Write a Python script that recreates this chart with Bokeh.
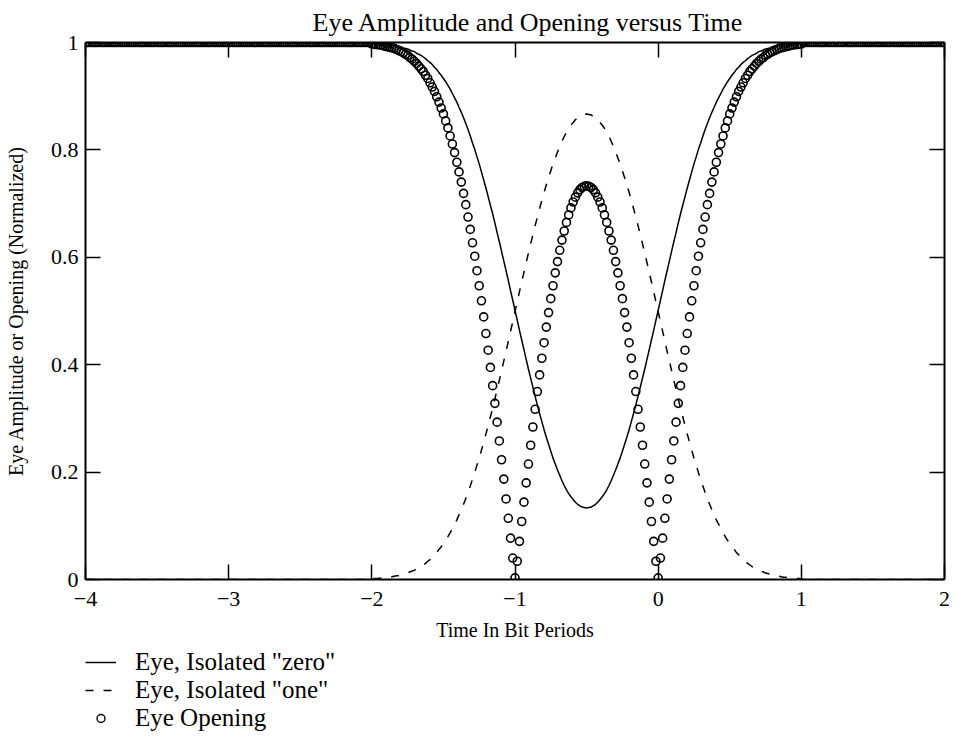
import numpy as np
from bokeh.plotting import figure
from bokeh.layouts import column
from bokeh.models import (ColumnDataSource, FixedTicker, CustomJSTickFormatter,
                          LinearAxis, Legend, LegendItem, Range1d)
from bokeh.embed import file_html
from bokeh.resources import INLINE

# ---------------- data ----------------
# time axis in bit periods, sampled 64 samples per bit from -4 to 2
time_bits = np.linspace(-4.0, 2.0, 385)

x_ticks = [-4, -3, -2, -1, 0, 1, 2]
x_tick_labels = ["\u22124", "\u22123", "\u22122", "\u22121", "0", "1", "2"]
y_ticks = [0, 0.2, 0.4, 0.6, 0.8, 1]
y_tick_labels = ["0", "0.2", "0.4", "0.6", "0.8", "1"]

series_labels = ['Eye, Isolated "zero"', 'Eye, Isolated "one"', "Eye Opening"]

# central section t = -2 .. 1 (193 samples)
one_center = [
    .001, .002, .002, .002, .003, .003, .003, .004, .004, .005,
    .006, .007, .007, .008, .010, .011, .012, .014, .016, .017,
    .020, .022, .024, .027, .030, .034, .037, .041, .046, .050,
    .056, .061, .067, .073, .080, .087, .095, .103, .111, .121,
    .130, .140, .151, .162, .174, .187, .199, .213, .226, .241,
    .256, .271, .287, .303, .319, .336, .354, .371, .389, .407,
    .425, .443, .462, .480, .499, .517, .536, .554, .572, .590,
    .608, .625, .642, .659, .675, .691, .706, .721, .735, .748,
    .761, .774, .785, .796, .806, .816, .825, .833, .840, .846,
    .851, .856, .860, .863, .865, .866, .867,
    .866, .865, .863, .860, .856, .851,
    .846, .840, .833, .825, .816, .806, .796, .785, .774, .761,
    .748, .735, .721, .706, .691, .675, .659, .642, .625, .608,
    .590, .572, .554, .536, .517, .499, .480, .462, .443, .425,
    .407, .389, .371, .354, .336, .319, .303, .287, .271, .256,
    .241, .226, .213, .199, .187, .174, .162, .151, .140, .130,
    .121, .111, .103, .095, .087, .080, .073, .067, .061, .056,
    .050, .046, .041, .037, .034, .030, .027, .024, .022, .020,
    .017, .016, .014, .012, .011, .010, .008, .007, .007, .006,
    .005, .004, .004, .003, .003, .003, .002, .002, .002, .001,
]
zero_center = [
    .999, .998, .998, .998, .997, .997, .997, .996, .996, .995,
    .994, .993, .993, .992, .990, .989, .988, .986, .984, .983,
    .980, .978, .976, .973, .970, .966, .963, .959, .954, .950,
    .944, .939, .933, .927, .920, .913, .905, .897, .889, .879,
    .870, .860, .849, .838, .826, .813, .801, .787, .774, .759,
    .744, .729, .713, .697, .681, .664, .646, .629, .611, .593,
    .575, .557, .538, .520, .501, .483, .464, .446, .428, .410,
    .392, .375, .358, .341, .325, .309, .294, .279, .265, .252,
    .239, .226, .215, .204, .194, .184, .175, .167, .160, .154,
    .149, .144, .140, .137, .135, .134, .133,
    .134, .135, .137, .140, .144, .149,
    .154, .160, .167, .175, .184, .194, .204, .215, .226, .239,
    .252, .265, .279, .294, .309, .325, .341, .358, .375, .392,
    .410, .428, .446, .464, .483, .501, .520, .538, .557, .575,
    .593, .611, .629, .646, .664, .681, .697, .713, .729, .744,
    .759, .774, .787, .801, .813, .826, .838, .849, .860, .870,
    .879, .889, .897, .905, .913, .920, .927, .933, .939, .944,
    .950, .954, .959, .963, .966, .970, .973, .976, .978, .980,
    .983, .984, .986, .988, .989, .990, .992, .993, .993, .994,
    .995, .996, .996, .997, .997, .997, .998, .998, .998, .999,
]
open_center = [
    .997, .997, .996, .996, .995, .994, .993, .992, .991, .990,
    .989, .987, .985, .983, .981, .978, .976, .972, .969, .965,
    .961, .956, .951, .946, .939, .933, .925, .917, .909, .899,
    .889, .878, .867, .854, .841, .826, .811, .795, .777, .759,
    .740, .719, .698, .675, .652, .627, .602, .575, .547, .519,
    .489, .458, .427, .395, .361, .328, .293, .258, .223, .187,
    .150, .114, .077, .040, .003, .034, .071, .108, .144, .180,
    .215, .250, .284, .317, .350, .381, .412, .441, .470, .497,
    .523, .547, .571, .592, .613, .632, .649, .665, .679, .692,
    .703, .712, .720, .726, .730, .732, .733,
    .732, .730, .726, .720, .712, .703,
    .692, .679, .665, .649, .632, .613, .592, .571, .547, .523,
    .497, .470, .441, .412, .381, .350, .317, .284, .250, .215,
    .180, .144, .108, .071, .034, .003, .040, .077, .114, .150,
    .187, .223, .258, .293, .328, .361, .395, .427, .458, .489,
    .519, .547, .575, .602, .627, .652, .675, .698, .719, .740,
    .759, .777, .795, .811, .826, .841, .854, .867, .878, .889,
    .899, .909, .917, .925, .933, .939, .946, .951, .956, .961,
    .965, .969, .972, .976, .978, .981, .983, .985, .987, .989,
    .990, .991, .992, .993, .994, .995, .996, .996, .997, .997,
]

# flat parts outside the transition: t = -4 .. -2 (128 samples), 1 .. 2 (64 samples)
isolated_one = [0.0] * 128 + one_center + [0.0] * 64
isolated_zero = [1.0] * 128 + zero_center + [1.0] * 64
eye_opening = [1.0] * 128 + open_center + [1.0] * 64

# ---------------- styles ----------------
FONT = "Liberation Serif"
ZERO_STYLE = dict(line_color="black", line_width=1.5)
ONE_STYLE = dict(line_color="black", line_width=1.5, line_dash="8 10")
OPEN_STYLE = dict(marker="circle", fill_color=None, line_color="black")

src = ColumnDataSource(dict(t=time_bits, zero=isolated_zero,
                            one=isolated_one, opening=eye_opening))

# ---------------- main figure ----------------
p = figure(width=951, height=648,
           x_range=Range1d(-4, 2), y_range=Range1d(0, 1),
           output_backend="svg", toolbar_location=None,
           min_border_left=85, min_border_right=7,
           min_border_top=42, min_border_bottom=69,
           title="Eye Amplitude and Opening versus Time")

p.title.text_font = FONT
p.title.text_font_size = "26px"
p.title.text_font_style = "normal"
p.title.text_color = "black"
p.title.align = "left"
p.title.offset = 227
p.title.standoff = 11

p.xgrid.visible = False
p.ygrid.visible = False
p.outline_line_color = None
p.background_fill_color = "white"
p.border_fill_color = "white"


def style_axis(ax, show_labels):
    ax.axis_line_width = 2
    ax.axis_line_color = "black"
    ax.major_tick_in = 15
    ax.major_tick_out = 0
    ax.major_tick_line_width = 1.5
    ax.major_tick_line_color = "black"
    ax.minor_tick_line_color = None
    ax.major_label_text_font = FONT
    ax.major_label_text_color = "black"
    ax.axis_label_text_font = FONT
    ax.axis_label_text_font_style = "normal"
    ax.axis_label_text_color = "black"
    if not show_labels:
        ax.major_label_text_font_size = "0px"
        ax.major_label_standoff = 0
        ax.axis_label_standoff = 0


xa = p.xaxis[0]
xa.ticker = FixedTicker(ticks=x_ticks)
xa.formatter = CustomJSTickFormatter(args=dict(labels=x_tick_labels),
                                     code="return labels[index];")
style_axis(xa, True)
xa.major_label_text_font_size = "22px"
xa.major_label_standoff = 12
xa.axis_label = "Time In Bit Periods"
xa.axis_label_text_font_size = "20px"
xa.axis_label_standoff = 10

ya = p.yaxis[0]
ya.ticker = FixedTicker(ticks=y_ticks)
ya.formatter = CustomJSTickFormatter(args=dict(labels=y_tick_labels),
                                     code="return labels[index];")
style_axis(ya, True)
ya.major_label_text_font_size = "22px"
ya.major_label_standoff = 7
ya.axis_label = "Eye Amplitude or Opening (Normalized)"
ya.axis_label_text_font_size = "20px"
ya.axis_label_standoff = 21

top_axis = LinearAxis(ticker=FixedTicker(ticks=x_ticks),
                      formatter=CustomJSTickFormatter(code="return '';"))
style_axis(top_axis, False)
p.add_layout(top_axis, "above")

right_axis = LinearAxis(ticker=FixedTicker(ticks=y_ticks),
                        formatter=CustomJSTickFormatter(code="return '';"))
style_axis(right_axis, False)
p.add_layout(right_axis, "right")

p.line("t", "zero", source=src, **ZERO_STYLE)
p.line("t", "one", source=src, **ONE_STYLE)
p.scatter("t", "opening", source=src, size=8, line_width=1.6, **OPEN_STYLE)

# ---------------- legend strip below the chart ----------------
# same data, viewed through a range where nothing falls: only the legend shows
leg = figure(width=951, height=83, x_range=Range1d(100, 101), y_range=Range1d(100, 101),
             output_backend="svg", toolbar_location=None, title=None,
             x_axis_type=None, y_axis_type=None,
             min_border_left=0, min_border_right=0,
             min_border_top=0, min_border_bottom=0)
leg.outline_line_color = None
leg.background_fill_color = "white"
leg.border_fill_color = "white"

k_zero = leg.line("t", "zero", source=src, **ZERO_STYLE)
k_one = leg.line("t", "one", source=src, **ONE_STYLE)
k_open = leg.scatter("t", "opening", source=src, size=7, line_width=1.4, **OPEN_STYLE)

legend = Legend(items=[
    LegendItem(label=series_labels[0], renderers=[k_zero]),
    LegendItem(label=series_labels[1], renderers=[k_one]),
    LegendItem(label=series_labels[2], renderers=[k_open]),
], location=(0, -1), orientation="vertical",
    label_text_font=FONT, label_text_font_size="25px", label_text_color="black",
    glyph_width=31, glyph_height=20, label_height=20, spacing=0,
    padding=0, margin=0, label_standoff=19,
    border_line_color=None, background_fill_alpha=0)
leg.add_layout(legend)

layout = column(p, leg, spacing=0)
open("out.html", "w").write(file_html(layout, INLINE))
